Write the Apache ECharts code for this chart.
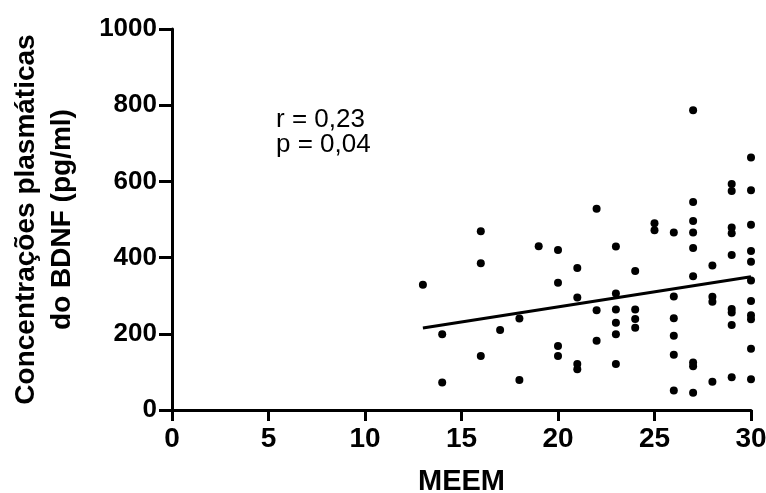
<!DOCTYPE html>
<html>
<head>
<meta charset="utf-8">
<script src="https://cdn.jsdelivr.net/npm/echarts@6/dist/echarts.min.js"></script>
<style>
html,body{margin:0;padding:0;background:#fff;}
#chart{width:766px;height:493px;}
</style>
</head>
<body>
<div id="chart"></div>
<script>
// MEEM score (x) and plasma BDNF concentration in pg/ml (y), one entry per subject
const meemScores = [
  13,
  14, 14,
  16, 16, 16,
  17,
  18, 18,
  19,
  20, 20, 20, 20,
  21, 21, 21, 21,
  22, 22, 22,
  23, 23, 23, 23, 23, 23,
  24, 24, 24, 24,
  25, 25,
  26, 26, 26, 26, 26, 26,
  27, 27, 27, 27, 27, 27, 27, 27, 27,
  28, 28, 28, 28,
  29, 29, 29, 29, 29, 29, 29, 29, 29,
  30, 30, 30, 30, 30, 30, 30, 30, 30, 30, 30
];
const bdnfValues = [
  329,
  199, 72,
  469, 385, 142,
  210,
  240, 79,
  430,
  420, 334, 168, 142,
  373, 295, 121, 107,
  528, 262, 182,
  429, 306, 264, 229, 199, 121,
  365, 264, 239, 216,
  490, 472,
  466, 298, 241, 195, 145, 51,
  787, 546, 496, 466, 425, 351, 125, 115, 45,
  379, 297, 284, 74,
  593, 575, 479, 464, 407, 265, 256, 223, 86,
  663, 577, 486, 417, 389, 340, 286, 249, 238, 161, 81
];
// regression line end points
const regressionX = [13, 30];
const regressionY = [215, 350];
// axis ticks
const xTicks = [0, 5, 10, 15, 20, 25, 30];
const yTicks = [0, 200, 400, 600, 800, 1000];
const statsText = ['r = 0,23', 'p = 0,04'];

const FONT = '"Liberation Sans", Arial, Helvetica, sans-serif';
const chart = echarts.init(document.getElementById('chart'), null, {renderer: 'canvas'});

const scatterData = meemScores.map((x, i) => [x, bdnfValues[i]]);
const lineData = regressionX.map((x, i) => [x, regressionY[i]]);

chart.setOption({
  animation: false,
  backgroundColor: '#ffffff',
  grid: {left: 172, right: 15, top: 29, bottom: 83, containLabel: false, outerBoundsMode: 'none'},
  xAxis: {
    type: 'value',
    min: xTicks[0], max: xTicks[xTicks.length - 1], interval: xTicks[1] - xTicks[0],
    name: 'MEEM', nameLocation: 'middle', nameGap: 57,
    nameTextStyle: {fontFamily: FONT, fontSize: 29, fontWeight: 'bold', color: '#000'},
    axisLine: {show: true, onZero: false, lineStyle: {color: '#000', width: 3}},
    axisTick: {show: true, length: 11, lineStyle: {color: '#000', width: 3}},
    axisLabel: {fontFamily: FONT, fontSize: 28, fontWeight: 'bold', color: '#000', margin: 15,
      formatter: v => String(v)},
    splitLine: {show: false}
  },
  yAxis: {
    type: 'value',
    min: yTicks[0], max: yTicks[yTicks.length - 1], interval: yTicks[1] - yTicks[0],
    name: 'Concentrações plasmáticas\ndo BDNF (pg/ml)', nameLocation: 'middle', nameRotate: 90, nameGap: 92,
    nameTextStyle: {fontFamily: FONT, fontSize: 28, fontWeight: 'bold', color: '#000', lineHeight: 36},
    axisLine: {show: true, onZero: false, lineStyle: {color: '#000', width: 3}},
    axisTick: {show: true, length: 13, lineStyle: {color: '#000', width: 3}},
    axisLabel: {fontFamily: FONT, fontSize: 26, fontWeight: 'bold', color: '#000', margin: 15,
      formatter: v => String(v)},
    splitLine: {show: false}
  },
  graphic: [{
    type: 'text', left: 276, top: 107,
    style: {text: statsText.join('\n'), font: '26px ' + FONT, fill: '#000', lineHeight: 25}
  }],
  series: [{
    type: 'scatter',
    data: scatterData,
    symbol: 'circle', symbolSize: 8,
    itemStyle: {color: '#000', opacity: 1},
    z: 3
  }, {
    type: 'line',
    data: lineData,
    symbol: 'none',
    lineStyle: {color: '#000', width: 3},
    z: 2
  }]
});
</script>
</body>
</html>
